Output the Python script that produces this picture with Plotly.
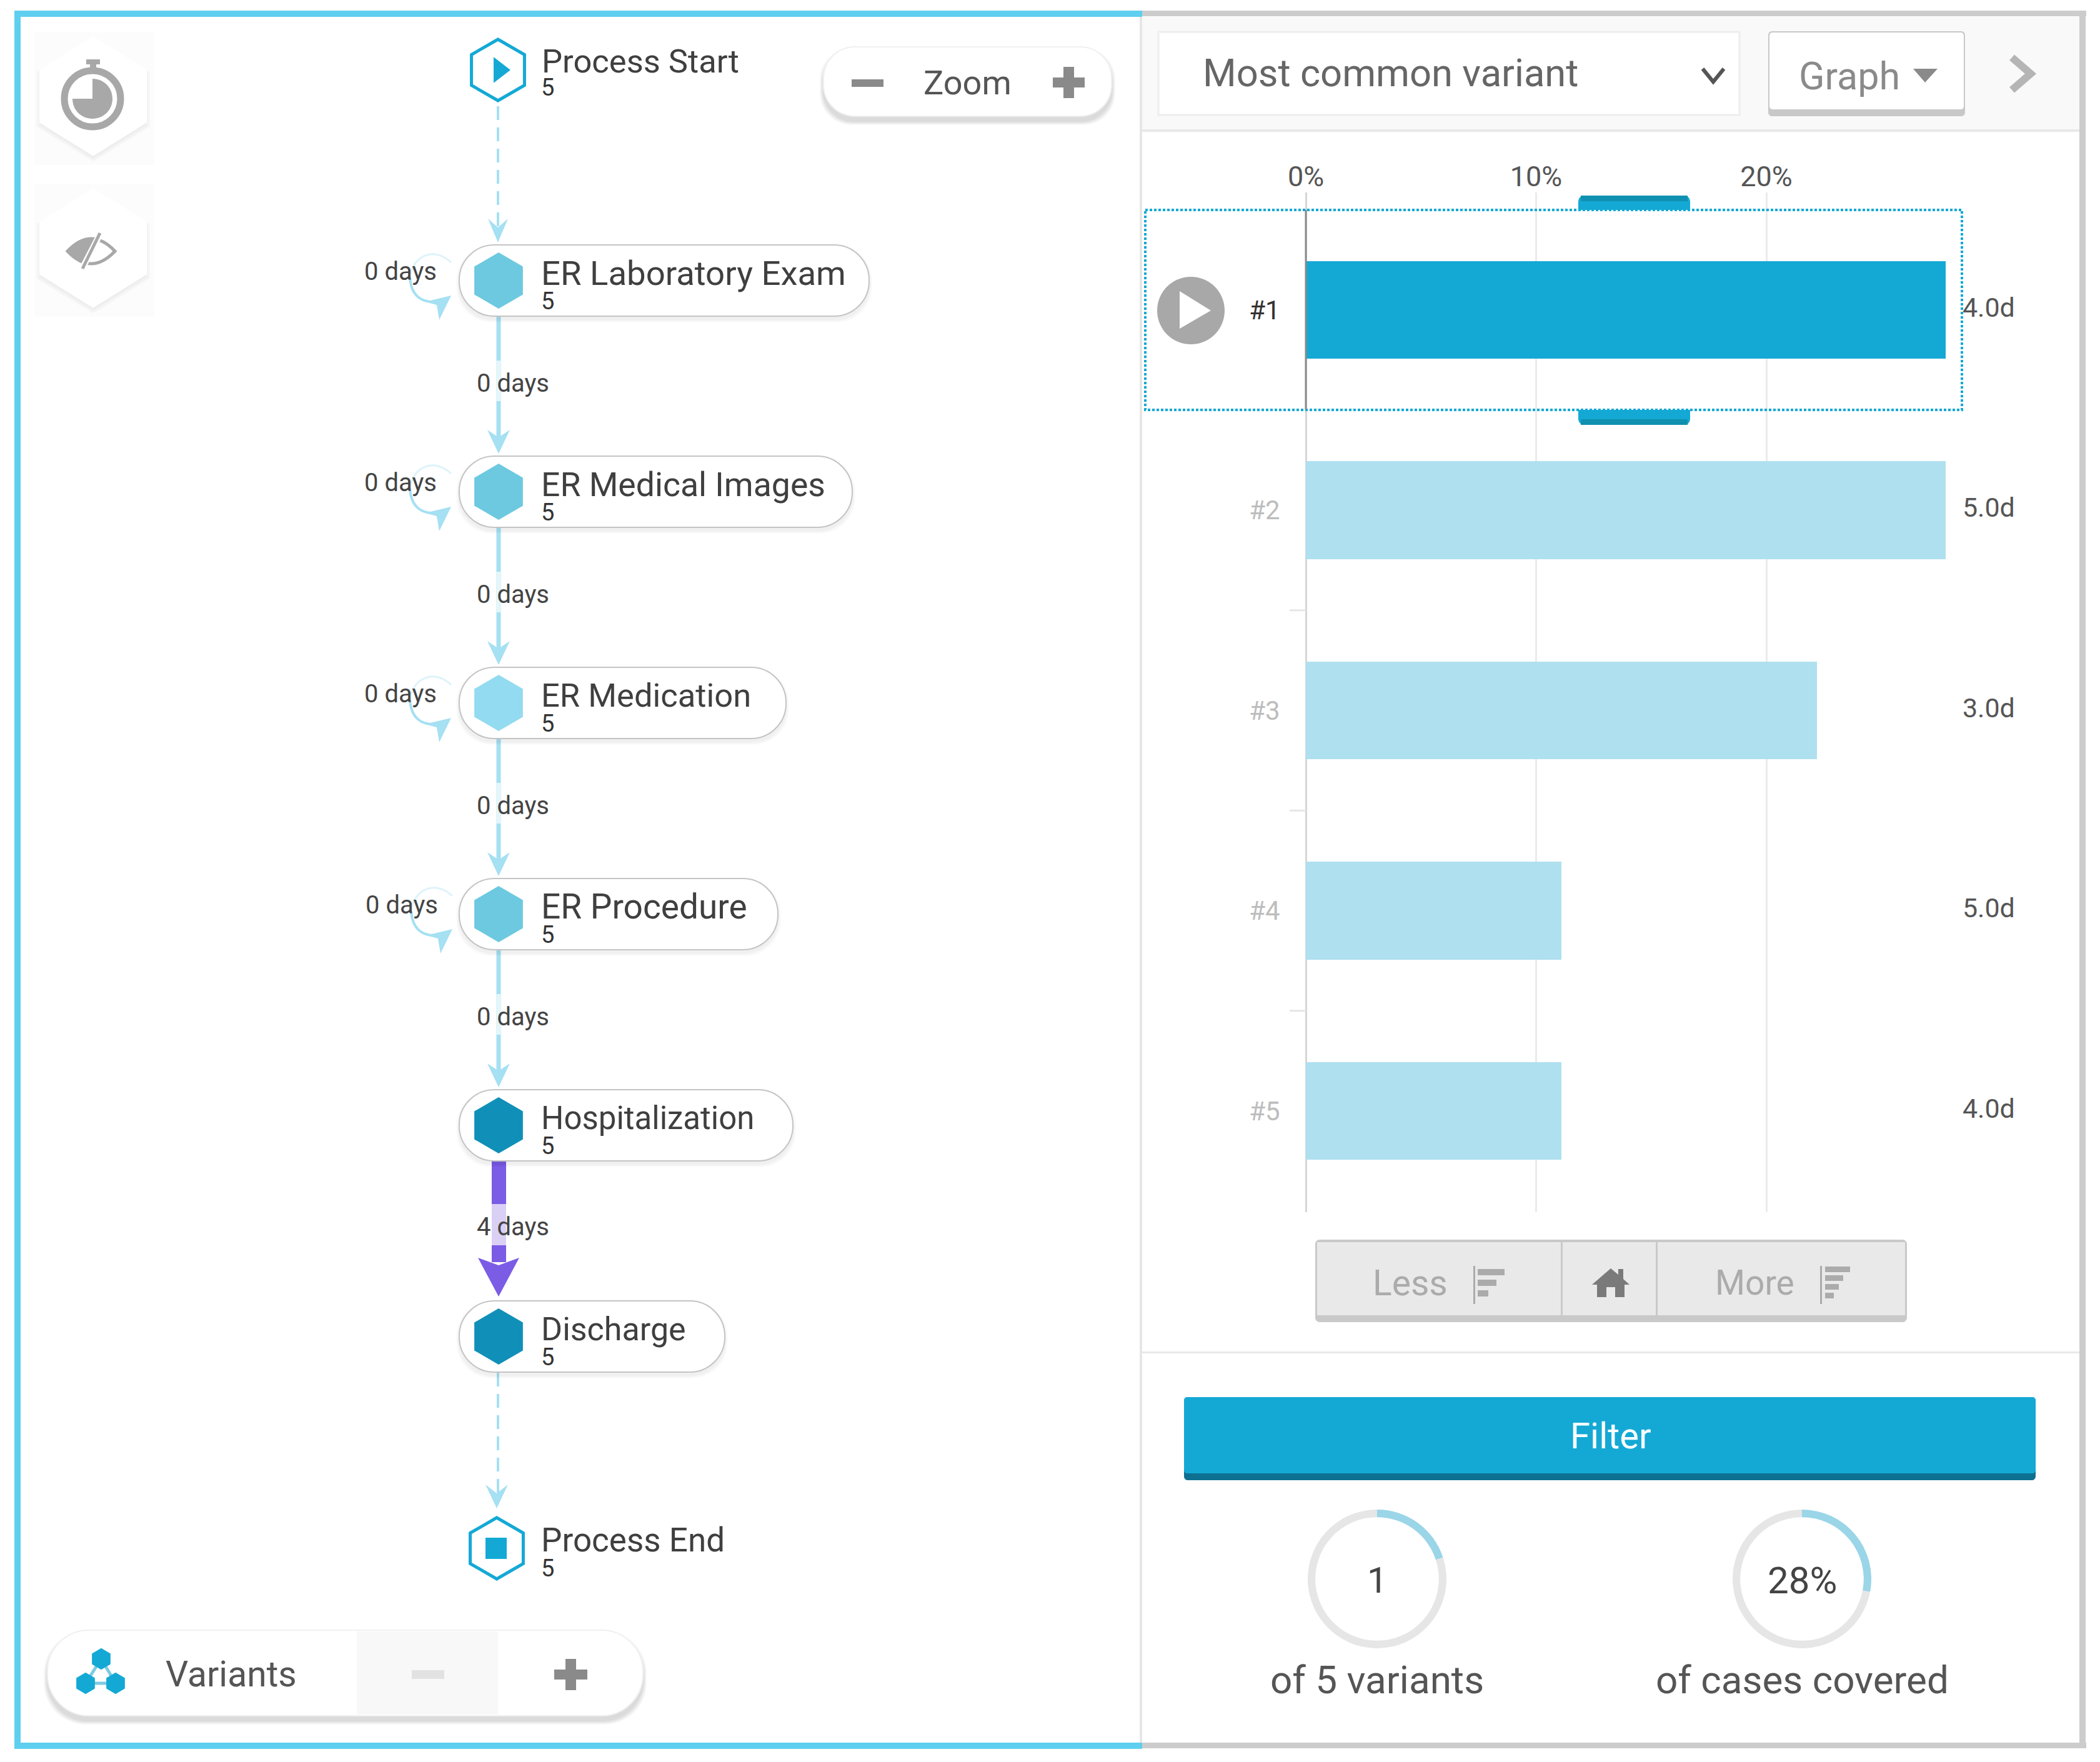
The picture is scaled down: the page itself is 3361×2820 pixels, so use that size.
import plotly.graph_objects as go

# ---------- data ----------
variant_labels = ["#1", "#2", "#3", "#4", "#5"]
variant_share_pct = [27.8, 27.8, 22.2, 11.1, 11.1]
variant_duration = ["4.0d", "5.0d", "3.0d", "5.0d", "4.0d"]
share_ticks = [0, 10, 20]
node_names = ["ER Laboratory Exam", "ER Medical Images", "ER Medication",
              "ER Procedure", "Hospitalization", "Discharge"]
node_counts = [5, 5, 5, 5, 5, 5]
edge_days = [0, 0, 0, 0, 4]
self_loop_days = [0, 0, 0, 0]
start_label, end_label, terminal_count = "Process Start", "Process End", 5
covered_variants, total_variants = 1, 5
covered_share = 28

# ---------- layout constants (pixel space of the picture) ----------
W, H = 3361, 2820
FONT = "Roboto"
BLUE, LIGHTBAR, EDGE, PURPLE = "#14A9D5", "#AEE0EF", "#A5E0F3", "#7B5CE5"
node_fill = ["#6CC9E0", "#6CC9E0", "#93DBF0", "#6CC9E0", "#1090B8", "#1090B8"]
pill_right = [1391, 1364, 1258, 1245, 1269, 1160]
name_size = [54.5, 53.5, 52.5, 55, 51, 52]
NODE_X, NODE_Y0, PITCH = 798, 449, 338
node_y = [NODE_Y0 + i * PITCH for i in range(len(node_names))]
START_Y, END_Y = 112, 2478
PX_PER_PCT = 36.85
X0 = 2090
X_MAX = 33
Y_TOP, Y_BOT = 308, 1940
ROW0, ROW_STEP = 496, 320.5

shapes, annos = [], []


def path(d, fill="rgba(0,0,0,0)", line=None, w=0, opacity=1, layer="below", dash=None):
    ln = dict(color=line or "rgba(0,0,0,0)", width=w)
    if dash:
        ln["dash"] = dash
    shapes.append(dict(type="path", path=d, xref="x2", yref="y2", fillcolor=fill,
                       line=ln, opacity=opacity, layer=layer))


def rrect(x0, y0, x1, y1, r):
    k = r * 0.45
    return (f"M{x0+r},{y0} L{x1-r},{y0} C{x1-k},{y0} {x1},{y0+k} {x1},{y0+r} "
            f"L{x1},{y1-r} C{x1},{y1-k} {x1-k},{y1} {x1-r},{y1} "
            f"L{x0+r},{y1} C{x0+k},{y1} {x0},{y1-k} {x0},{y1-r} "
            f"L{x0},{y0+r} C{x0},{y0+k} {x0+k},{y0} {x0+r},{y0} Z")


def box(x0, y0, x1, y1, fill, line=None, w=0, layer="below", dash=None):
    ln = dict(color=line or "rgba(0,0,0,0)", width=w)
    if dash:
        ln["dash"] = dash
    shapes.append(dict(type="rect", x0=x0, y0=y0, x1=x1, y1=y1, xref="x2", yref="y2",
                       fillcolor=fill, line=ln, layer=layer))


def shadow(x0, y0, x1, y1, r, dy=8, steps=6, alpha=0.025):
    for i in range(steps, 0, -1):
        path(rrect(x0 - i, y0 + dy - i, x1 + i, y1 + dy + i, r), fill="black", opacity=alpha)


def text(x, y, s, size, color="#444", anchor="left"):
    annos.append(dict(x=x, y=y, xref="x2", yref="y2", text=s, showarrow=False, xanchor=anchor,
                      yanchor="middle", font=dict(family=FONT, size=size, color=color),
                      align=anchor))


def arrow_head(tip_y, half, length, notch, color, x=NODE_X, layer="below"):
    path(f"M{x},{tip_y} L{x-half},{tip_y-length} L{x},{tip_y-length+notch} "
         f"L{x+half},{tip_y-length} Z", fill=color, layer=layer)


# ---------- frames ----------
box(1826, 27, 3333, 208, "#F9F9F9")
box(1828, 207, 3330, 211, "#E8E8E8")
box(1824, 17, 3339, 26, "#CCCCCC")
box(3328, 17, 3338, 2798, "#CCCCCC")
box(1824, 2789, 3339, 2798, "#CCCCCC")
box(1824, 26, 1828, 2790, "#E6E6E6")
box(23, 17, 1828, 27, "#5FCFEF")
box(23, 17, 33, 2799, "#5FCFEF")
box(23, 2789, 1828, 2799, "#5FCFEF")

# ---------- right header ----------
box(1854, 51, 2784, 184, "white", "#EDEDED", 3)
text(1923, 117, "Most common variant", 61.5, "#666")
path("M2725,110 L2742,131 L2759,110", line="#555", w=6)
path(rrect(2830, 50, 3145, 186, 6), fill="#C8C8C8")
path(rrect(2832, 52, 3143, 175, 5), fill="white")
text(2877, 122, "Graph", 61, "#8A8A8A")
path("M3062,110 L3101,110 L3081,132 Z", fill="#8A8A8A")
path("M3220,92 L3250,118 L3220,144", line="#B5B5B5", w=12)

# ---------- selection around bar #1 ----------
path("M2526,336 L2526,323 C2526,317 2530,313 2536,313 L2695,313 C2701,313 2705,317 2705,323 L2705,336 Z",
     fill=BLUE)
box(2530, 313, 2701, 322, "#1090B0")
path("M2526,656 L2526,670 C2526,676 2530,680 2536,680 L2695,680 C2701,680 2705,676 2705,670 L2705,656 Z",
     fill=BLUE)
box(2530, 671, 2701, 680, "#1090B0")
path("M1906,443 C1936,443 1960,467 1960,497 C1960,527 1936,551 1906,551 "
     "C1876,551 1852,527 1852,497 C1852,467 1876,443 1906,443 Z", fill="#A8A8A8", layer="above")
path("M1888,466 L1938,497 L1888,526 Z", fill="white", layer="above")
box(1833, 336, 3140, 656, "rgba(0,0,0,0)", BLUE, 4, layer="above", dash="4px,3px")
box(X0 - 1.5, 336, X0 + 1.5, 656, "#8A8A8A", layer="above")
for i in (1, 2, 3):
    y = ROW0 + ROW_STEP * (i + 0.5)
    box(X0 - 26, y - 1.5, X0, y + 1.5, "#E6E6E6")

# ---------- less / more ----------
path(rrect(2105, 1984, 3052, 2116, 7), fill="#C9C9C9")
box(2108, 1988, 3049, 2105, "#E9E9E9")
box(2498, 1986, 2501, 2105, "#C9C9C9")
box(2650, 1986, 2653, 2105, "#C9C9C9")
text(2257, 2053, "Less", 57, "#ABABAB", "center")
text(2808, 2053, "More", 55, "#ABABAB", "center")
box(2358, 2026, 2361, 2087, "#ABABAB")
for y, x1 in ((2031, 2408), (2048, 2395), (2065, 2382)):
    box(2365, y, x1, y + 10, "#ABABAB")
box(2913, 2026, 2916, 2087, "#ABABAB")
for y, x1 in ((2027, 2961), (2041, 2950), (2055, 2943), (2069, 2935)):
    box(2921, y, x1, y + 9, "#ABABAB")
path("M2578,2030 L2590,2040 L2590,2031 L2598,2031 L2598,2047 L2608,2056 L2600,2056 L2600,2076 "
     "L2585,2076 L2585,2060 L2571,2060 L2571,2076 L2556,2076 L2556,2056 L2548,2056 Z", fill="#7A7A7A")

box(1828, 2163, 3328, 2166, "#E8E8E8")
path(rrect(1895, 2236, 3258, 2369, 6), fill="#0E7090")
path(rrect(1895, 2236, 3258, 2358, 5), fill=BLUE)
text(2578, 2298, "Filter", 58, "white", "center")
text(2204, 2529, str(covered_variants), 58, "#444", "center")
text(2884, 2529, f"{covered_share}%", 60, "#444", "center")
text(2204, 2688, f"of {total_variants} variants", 62, "#555", "center")
text(2884, 2688, "of cases covered", 62, "#555", "center")

# ---------- left buttons ----------
for cy in (154, 397):
    box(55, cy - 102, 247, cy + 110, "rgba(0,0,0,0.012)")
    hexa = lambda g, d=0: (f"M149,{cy-91-g+d} L{231+g},{cy-40-g//2+d} L{231+g},{cy+40+g//2+d} "
                           f"L149,{cy+91+g+d} L{67-g},{cy+40+g//2+d} L{67-g},{cy-40-g//2+d} Z")
    for g in (9, 6, 3):
        path(hexa(g, 5), fill="black", opacity=0.02)
    path(hexa(0), fill="white", line="white", w=8)
shapes.append(dict(type="circle", x0=103, y0=113, x1=193, y1=203, xref="x2", yref="y2",
                   fillcolor="white", line=dict(color="#A8A8A8", width=11), layer="below"))
box(138, 95, 160, 103, "#A8A8A8")
box(144, 103, 154, 112, "#A8A8A8")
path("M148,126 C166,126 180,140 180,158 C180,176 166,190 148,190 "
     "C130,190 116,176 116,158 L148,158 Z", fill="#A8A8A8")
path("M108,402 Q146,362 184,402 Q146,442 108,402 Z", line="#A8A8A8", w=5)
path("M110,402 Q125,384 152,380 L136,424 Q120,418 110,402 Z", fill="#A8A8A8")
path("M161,373 L131,431", line="white", w=10)
path("M160,373 L132,430", line="#A8A8A8", w=5)

# ---------- zoom pill ----------
shadow(1318, 75, 1779, 186, 50)
path(rrect(1318, 75, 1779, 186, 50), fill="white", line="#F0F0F0", w=2)
box(1363, 127, 1414, 139, "#8A8A8A")
box(1685, 124, 1736, 140, "#8A8A8A")
box(1702, 107, 1719, 157, "#8A8A8A")
text(1548, 132, "Zoom", 54, "#555", "center")

# ---------- variants pill ----------
shadow(76, 2609, 1029, 2746, 66)
path(rrect(76, 2609, 1029, 2746, 66), fill="white", line="#F0F0F0", w=2)
box(571, 2611, 797, 2744, "#F8F8F8")
box(659, 2673, 711, 2687, "#E2E2E2")
box(887, 2672, 940, 2688, "#8A8A8A")
box(905, 2655, 922, 2705, "#8A8A8A")
text(370, 2679, "Variants", 57, "#555", "center")
path("M162,2655 L137,2694 L185,2694 Z", line="#7CCBE4", w=5)

# ---------- process edges ----------
path("M797,170 L797,372", line=EDGE, w=4, dash="22px,12px")
arrow_head(388, 16, 38, 14, EDGE, x=797)
path("M797,2197 L797,2398", line=EDGE, w=4, dash="22px,12px")
arrow_head(2414, 18, 38, 14, EDGE, x=795)
for i in range(4):
    y0 = node_y[i]
    tip = node_y[i + 1] - 61
    box(NODE_X - 3.5, y0 + 56, NODE_X + 3.5, tip - 20, EDGE)
    box(NODE_X - 3.5, y0 + 128, NODE_X + 3.5, y0 + 193, "#E5F6FB")
    arrow_head(tip, 18, 38, 12, EDGE)
    lx = 2 if i == 3 else 0
    path(f"M{722+lx},{y0-29} C{695+lx},{y0-55} {660+lx},{y0-40} {656+lx},{y0-5}",
         line="#DDF3FA", w=3)
    path(f"M{656+lx},{y0-5} C{658+lx},{y0+25} {675+lx},{y0+36} {700+lx},{y0+34}",
         line=EDGE, w=4)
    path(f"M{722+lx},{y0+24} L{680+lx},{y0+34} L{699+lx},{y0+39} L{703+lx},{y0+63} Z", fill=EDGE)
    text(581 + lx, y0 - 15, f"{self_loop_days[i]} days", 40, "#444")
    text(761, y0 + 164, f"{edge_days[i]} days", 40, "#444")
box(787, 1857, 810, 2020, PURPLE)
box(787, 1927, 810, 1993, "#DAD0F5")
arrow_head(2075, 33, 62, 12, PURPLE)
text(761, 1963, f"{edge_days[4]} days", 40, "#444")

# ---------- node pills ----------
for i, yc in enumerate(node_y):
    shadow(735, yc - 57, pill_right[i], yc + 57, 56, dy=5, steps=5, alpha=0.012)
    path(rrect(735, yc - 57, pill_right[i], yc + 57, 56), fill="white", line="#C4C4C4", w=2)

# ---------- figure ----------
fig = go.Figure()
fig.add_trace(go.Bar(
    x=variant_share_pct, y=list(range(len(variant_labels))), orientation="h", width=0.487,
    marker=dict(color=[BLUE] + [LIGHTBAR] * (len(variant_labels) - 1), line=dict(width=0)),
    hoverinfo="skip", showlegend=False, xaxis="x", yaxis="y"))
fig.add_trace(go.Scatter(
    x=[max(variant_share_pct) + 0.72] * len(variant_duration), y=list(range(len(variant_labels))),
    mode="text", text=variant_duration, textposition="middle right",
    textfont=dict(family=FONT, size=43, color="#555"),
    hoverinfo="skip", showlegend=False, xaxis="x", yaxis="y", cliponaxis=False))

# process-map nodes
fig.add_trace(go.Scatter(
    x=[NODE_X] * len(node_names), y=node_y, mode="markers",
    marker=dict(symbol="hexagon", size=84, color=node_fill, opacity=1,
                line=dict(color=node_fill, width=5)),
    hoverinfo="skip", showlegend=False, xaxis="x2", yaxis="y2"))
fig.add_trace(go.Scatter(
    x=[NODE_X - 1, NODE_X - 3], y=[START_Y, END_Y], mode="markers",
    marker=dict(symbol="hexagon", size=98, color="white", line=dict(color=BLUE, width=5)),
    hoverinfo="skip", showlegend=False, xaxis="x2", yaxis="y2"))
fig.add_trace(go.Scatter(
    x=[NODE_X + 1], y=[START_Y], mode="markers",
    marker=dict(symbol="triangle-right", size=36, color=BLUE),
    hoverinfo="skip", showlegend=False, xaxis="x2", yaxis="y2"))
fig.add_trace(go.Scatter(
    x=[NODE_X - 4], y=[END_Y], mode="markers",
    marker=dict(symbol="square", size=34, color=BLUE),
    hoverinfo="skip", showlegend=False, xaxis="x2", yaxis="y2"))
fig.add_trace(go.Scatter(
    x=[162, 137, 185], y=[2655, 2694, 2694], mode="markers",
    marker=dict(symbol="hexagon", size=32, color=BLUE, opacity=1, line=dict(color=BLUE, width=2)),
    hoverinfo="skip", showlegend=False, xaxis="x2", yaxis="y2"))

# process-map labels
for i, yc in enumerate(node_y):
    text(864, yc - 12, node_names[i], name_size[i], "#3F3F3F")
    text(864, yc + 33, str(node_counts[i]), 38, "#333")
text(865, 98, start_label, 52.5, "#3F3F3F")
text(864, 140, str(terminal_count), 38, "#333")
text(864, 2465, end_label, 53, "#3F3F3F")
text(864, 2510, str(terminal_count), 38, "#333")


def donut(cx, cy, r, values):
    fig.add_trace(go.Pie(
        values=values, hole=0.89, sort=False, direction="clockwise", rotation=0,
        marker=dict(colors=["#9AD5E8", "#E6E6E6"], line=dict(width=0)),
        textinfo="none", hoverinfo="skip", showlegend=False,
        domain=dict(x=[(cx - r) / W, (cx + r) / W], y=[1 - (cy + r) / H, 1 - (cy - r) / H])))


donut(2204, 2527, 111, [covered_variants, total_variants - covered_variants])
donut(2884, 2527, 111, [covered_share, 100 - covered_share])

tick_text = [f'<span style="color:{"#333" if i == 0 else "#BDBDBD"}">{s}</span>'
             for i, s in enumerate(variant_labels)]
fig.update_layout(
    template="none",
    width=W, height=H, autosize=False, margin=dict(l=0, r=0, t=0, b=0, pad=0),
    paper_bgcolor="white", plot_bgcolor="rgba(0,0,0,0)", showlegend=False,
    font=dict(family=FONT), bargap=0, shapes=shapes, annotations=annos,
    xaxis=dict(domain=[X0 / W, (X0 + X_MAX * PX_PER_PCT) / W], range=[0, X_MAX], side="top",
               anchor="y", automargin=False, tickvals=share_ticks,
               ticktext=[f"{t}%" for t in share_ticks],
               showgrid=True, gridcolor="#EBEBEB", gridwidth=3, zeroline=True,
               zerolinecolor="#D6D6D6", zerolinewidth=3, showline=False,
               ticks="", ticklabelstandoff=0,
               tickfont=dict(family=FONT, size=45, color="#555")),
    yaxis=dict(domain=[1 - Y_BOT / H, 1 - Y_TOP / H], anchor="x", automargin=False,
               range=[(Y_BOT - ROW0) / ROW_STEP, (Y_TOP - ROW0) / ROW_STEP],
               tickvals=list(range(5)), ticktext=tick_text, showgrid=False, zeroline=False,
               showline=False, ticks="outside", ticklen=32, tickcolor="rgba(0,0,0,0)",
               tickfont=dict(family=FONT, size=42, color="#BDBDBD")),
    xaxis2=dict(domain=[0, 1], range=[0, W], visible=False, anchor="y2", automargin=False),
    yaxis2=dict(domain=[0, 1], range=[H, 0], visible=False, anchor="x2", automargin=False),
)
fig.write_html("out.html", post_script="document.body.style.margin='0';",
               config=dict(displayModeBar=False))
